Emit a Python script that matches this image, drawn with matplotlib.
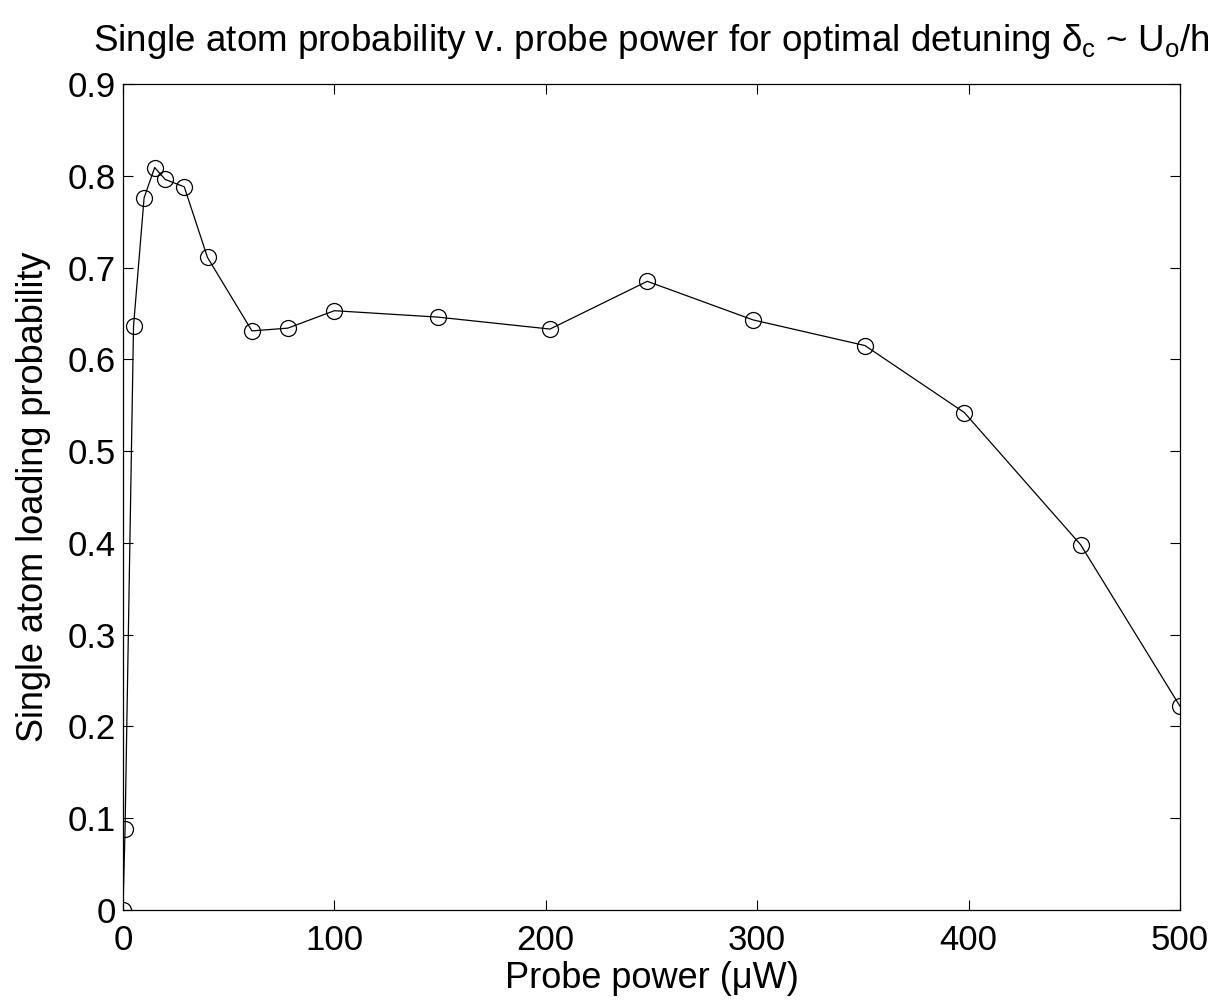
import matplotlib
matplotlib.use("Agg")
import matplotlib.pyplot as plt

# probe power (uW) and single atom loading probability
power = [0, 1, 5, 10, 15, 20, 29, 40, 61, 78, 100, 149, 202, 248, 298, 351, 398, 453, 500]
prob = [0.0, 0.088, 0.636, 0.776, 0.809, 0.796, 0.788, 0.711, 0.631, 0.634, 0.653,
        0.646, 0.633, 0.685, 0.643, 0.615, 0.542, 0.398, 0.222]

xticks = [0, 100, 200, 300, 400, 500]
yticks = [0, 0.1, 0.2, 0.3, 0.4, 0.5, 0.6, 0.7, 0.8, 0.9]
ytick_labels = ['0', '0.1', '0.2', '0.3', '0.4', '0.5', '0.6', '0.7', '0.8', '0.9']

plt.rcParams['font.family'] = ['Liberation Sans', 'DejaVu Sans']
plt.rcParams['mathtext.fontset'] = 'custom'
plt.rcParams['mathtext.rm'] = 'Liberation Sans'
plt.rcParams['mathtext.it'] = 'Liberation Sans'

fig = plt.figure(figsize=(12.27, 10.06), dpi=100)
ax = fig.add_axes([0.1002, 0.0954, 0.8615, 0.8211])

ax.plot(power, prob, color='black', linewidth=0.9, marker='o', markersize=11.5,
        markerfacecolor='none', markeredgecolor='black', markeredgewidth=0.9)

ax.set_xlim(0, 500)
ax.set_ylim(0, 0.9)
ax.set_xticks(xticks)
ax.set_yticks(yticks)
ax.set_yticklabels(ytick_labels)
ax.tick_params(direction='in', length=7, width=0.8, labelsize=25, top=True, right=True)
ax.tick_params(axis='x', pad=10)
ax.tick_params(axis='y', pad=5)
for s in ax.spines.values():
    s.set_linewidth(0.9)

ax.set_xlabel('Probe power (\u03bcW)', fontsize=26, labelpad=3)
ax.set_ylabel('Single atom loading probability', fontsize=26, labelpad=12)
ax.set_title(r'Single atom probability v. probe power for optimal detuning $\delta_{c}$ ~ U$_{o}$/h',
             fontsize=26.5, pad=24)

fig.savefig('out.png', dpi=100)
